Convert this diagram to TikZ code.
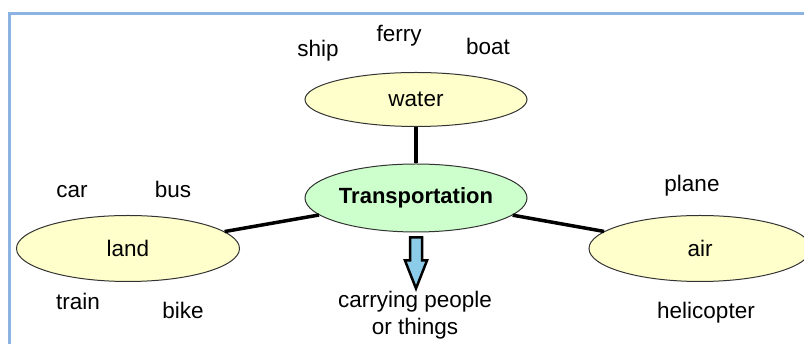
\documentclass[tikz,border=0pt]{standalone}
\usepackage{fontspec}
\setmainfont{Liberation Sans}
\usetikzlibrary{shapes.geometric}
\definecolor{framebl}{RGB}{141,179,226}
\definecolor{ovalyel}{RGB}{255,255,204}
\definecolor{ovalgrn}{RGB}{204,255,204}
\definecolor{arrbl}{RGB}{140,204,232}
\begin{document}
\begin{tikzpicture}[x=1pt,y=1pt,
oval/.style={%
ellipse,
draw=black!80,
line width=1pt,
fill=ovalyel,
inner sep=0,
font={\fontsize{22.5pt}{27pt}\selectfont},
minimum width=222pt,
minimum height=66pt,
},
hub/.style={%
oval,
fill=ovalgrn,
font={\bfseries\fontsize{22pt}{27pt}\selectfont},
minimum height=68pt,
},
word/.style={%
inner sep=0,
anchor=base,
font={\fontsize{22.5pt}{27pt}\selectfont},
},
link/.style={%
line width=3.5pt,
black,
},
blockarr/.style={%
draw=black,
line width=2.5pt,
fill=arrbl,
line join=miter,
},
frame/.style={%
draw=framebl,
line width=3pt,
}
]
\useasboundingbox (0,0) rectangle (804,344);

%frame
\draw[frame] (9.5,-10) -- (9.5,330.5) -- (820,330.5);

%ovals
\node[hub] (trans) at (416,146) {Transportation};
\node[oval,minimum height=54pt] (water) at (416,244.5) {water};
\node[oval,minimum width=223pt] (land) at (128,95.5) {land};
\node[oval] (air) at (700,95.5) {air};

%links
\draw[link] (water) -- (trans);
\draw[link] (land) -- (trans);
\draw[link] (trans) -- (air);

%water words
\node[word] (ship) at (318,287) {ship};
\node[word] (ferry) at (399,302) {ferry};
\node[word] (boat) at (488,289) {boat};

%land words
\node[word] (car) at (72,146) {car};
\node[word] (bus) at (173,146) {bus};
\node[word] (train) at (78,34) {train};
\node[word] (bike) at (183,25) {bike};

%air words
\node[word] (plane) at (692,152) {plane};
\node[word] (heli) at (706,25) {helicopter};

%meaning
\draw[blockarr] ([xshift=-6pt,yshift=-5pt]trans.south) -- ++(0,-23) -- ++(-5,0)
  -- ++(11,-28) -- ++(11,28) -- ++(-5,0) -- ++(0,23) -- cycle;
\node[word,anchor=north,align=center] (mean) at (415,52.5) {carrying people\\or things};
\end{tikzpicture}
\end{document}
